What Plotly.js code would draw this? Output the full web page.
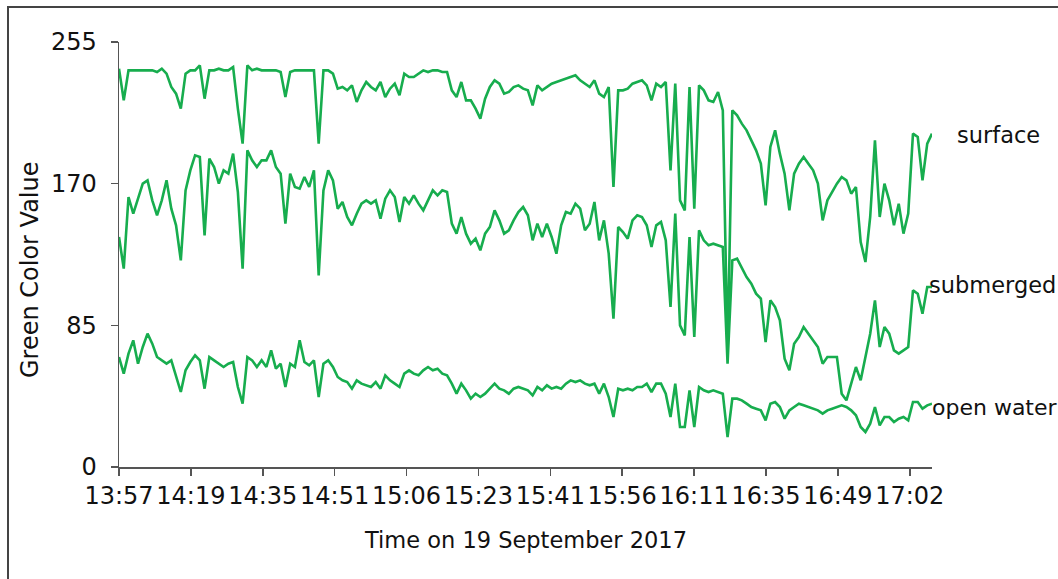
<!DOCTYPE html>
<html><head><meta charset="utf-8">
<script src="https://cdn.plot.ly/plotly-3.0.1.min.js"></script>
<style>html,body{margin:0;padding:0;background:#fff}#chart{width:1058px;height:579px}</style>
</head><body><div id="chart"></div>
<script>
const tickLabels = ['13:57','14:19','14:35','14:51','15:06','15:23','15:41','15:56','16:11','16:35','16:49','17:02'];
const yTicks = [0, 85, 170, 255];
const seriesNames = ['surface', 'submerged', 'open water'];

const surface = [
239,220,238,238,238,238,238,238,237,239,
236,228,224,215,236,238,238,241,221,238,
238,239,238,238,240,215,194,241,238,239,
238,238,238,238,237,222,237,238,238,238,
238,238,194,238,238,236,227,228,226,229,
219,226,231,228,226,231,222,227,230,223,
236,234,234,236,238,237,238,238,237,237,
226,222,231,220,220,215,209,221,228,232,
230,224,225,228,229,227,226,217,229,226,
228,230,231,232,233,234,235,232,230,228,
232,224,222,228,168,226,226,227,230,231,
232,229,220,230,228,231,178,230,160,154,
228,155,229,226,220,219,225,214,68,214,
211,206,202,196,190,182,157,192,202,188,
176,154,176,182,186,182,178,170,148,160,
165,170,174,172,164,168,135,123,150,196,
150,170,160,145,158,140,152,200,198,172,
194,200];

const submerged = [
138,119,162,152,161,170,172,160,151,160,
172,155,145,124,166,178,187,186,139,185,
180,170,178,176,188,165,119,190,184,180,
184,184,190,180,176,146,176,168,167,174,
168,178,115,166,178,172,155,159,150,145,
152,158,160,158,160,149,161,166,162,147,
162,158,163,158,154,160,166,163,166,165,
146,140,150,140,134,137,130,140,144,154,
148,140,142,148,153,156,151,136,146,138,
146,138,128,145,153,152,158,155,142,146,
159,136,148,128,89,144,141,137,148,151,
150,145,132,145,147,136,96,152,85,79,
138,78,142,136,133,134,133,132,62,124,
125,119,114,110,104,101,75,100,96,88,
65,58,74,78,84,80,76,72,62,66,
66,66,44,40,50,60,52,66,80,100,
72,84,80,70,68,70,72,106,104,92,
108,108];

const openWater = [
66,56,68,76,62,72,80,74,66,64,
62,64,55,45,58,63,67,64,47,66,
64,62,60,62,63,48,38,66,64,60,
64,60,70,59,62,48,62,60,76,63,
61,64,42,62,64,60,54,52,51,47,
52,50,49,48,51,47,55,52,50,48,
56,58,56,55,58,60,58,59,56,55,
50,44,50,46,41,44,42,44,47,50,
47,46,44,47,48,47,46,43,48,46,
49,47,48,47,50,52,51,52,50,49,
50,44,50,42,30,47,46,47,46,48,
48,50,45,50,50,44,30,50,24,24,
46,24,48,46,45,46,45,44,18,41,
41,40,38,36,35,34,28,38,39,36,
29,34,36,38,37,36,35,34,32,34,
35,36,37,36,34,31,24,21,26,36,
25,30,30,27,29,30,28,39,39,35,
37,38];

// layout geometry (pixels)
const W = 1058, H = 579, L = 119, R = 932, T = 42, B = 467;
const ptsPerTick = 15.12;
const xMax = 171;
const px = v => (v - L) / (R - L);
const py = v => (B - v) / (B - T);

const green = '#17AD4E';
const font = 'DejaVu Sans, Liberation Sans, sans-serif';

const traces = [surface, submerged, openWater].map((ys, k) => ({
  type: 'scatter', mode: 'lines', name: seriesNames[k],
  x: ys.map((_, i) => i), y: ys,
  line: {color: green, width: 2.6}, showlegend: false, hoverinfo: 'skip'
}));

const layout = {
  width: W, height: H,
  margin: {l: L, r: W - R, t: T, b: H - B, pad: 0},
  paper_bgcolor: '#fff', plot_bgcolor: '#fff',
  font: {family: font, size: 22, color: '#111'},
  showlegend: false,
  xaxis: {
    range: [0, xMax], showgrid: false, zeroline: false,
    showline: true, linecolor: '#555', linewidth: 1.5,
    ticks: 'outside', ticklen: 7, tickwidth: 1.5, tickcolor: '#555',
    tickmode: 'array', tickvals: tickLabels.map((_, k) => k * ptsPerTick), ticktext: tickLabels,
    tickfont: {family: font, size: 24, color: '#111'}
  },
  yaxis: {
    range: [0, 255], showgrid: false, zeroline: false,
    showline: true, linecolor: '#555', linewidth: 1.5,
    ticks: 'outside', ticklen: 7, tickwidth: 1.5, tickcolor: '#555',
    ticklabelstandoff: 9,
    tickmode: 'array', tickvals: yTicks, ticktext: yTicks.map(String),
    tickfont: {family: font, size: 24, color: '#111'}
  },
  shapes: [{
    type: 'rect', xref: 'paper', yref: 'paper',
    x0: px(8), x1: px(1080), y0: py(7), y1: py(600),
    line: {color: '#444', width: 2}, fillcolor: 'rgba(0,0,0,0)', layer: 'below'
  }],
  annotations: [
    {xref: 'paper', yref: 'paper', x: px(525), y: py(540), text: 'Time on 19 September 2017',
     showarrow: false, xanchor: 'center', yanchor: 'middle', font: {family: font, size: 22.5, color: '#111'}},
    {xref: 'paper', yref: 'paper', x: px(30), y: py(270), text: 'Green Color Value', textangle: -90,
     showarrow: false, xanchor: 'center', yanchor: 'middle', font: {family: font, size: 24, color: '#111'}},
    {xref: 'paper', yref: 'paper', x: px(955), y: py(135), text: seriesNames[0],
     showarrow: false, xanchor: 'left', yanchor: 'middle', font: {family: font, size: 22.5, color: '#111'}},
    {xref: 'paper', yref: 'paper', x: px(927), y: py(285), text: seriesNames[1],
     showarrow: false, xanchor: 'left', yanchor: 'middle', font: {family: font, size: 22.5, color: '#111'}},
    {xref: 'paper', yref: 'paper', x: px(930), y: py(407), text: seriesNames[2],
     showarrow: false, xanchor: 'left', yanchor: 'middle', font: {family: font, size: 22, color: '#111'}}
  ]
};

Plotly.newPlot('chart', traces, layout, {displayModeBar: false, staticPlot: true});
</script></body></html>
